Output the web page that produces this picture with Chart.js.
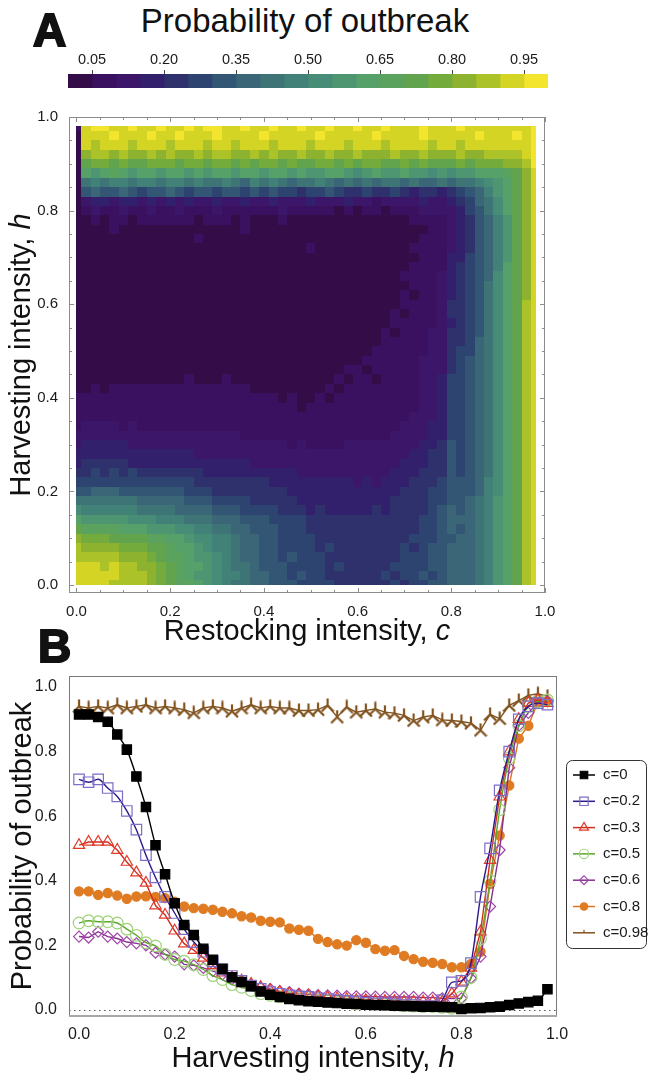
<!DOCTYPE html>
<html>
<head>
<meta charset="utf-8">
<title>Probability of outbreak</title>
<script src="https://cdn.jsdelivr.net/npm/chart.js@4.4.1/dist/chart.umd.min.js"></script>
<style>
  html, body { margin: 0; padding: 0; background: #fff; }
  body { position: relative; width: 648px; height: 1080px; overflow: hidden;
         font-family: "Liberation Sans", Arial, sans-serif; color: #111; }
  canvas { position: absolute; left: 0; }
  .letter { position: absolute; font-weight: bold; font-size: 46px; line-height: 1;
            -webkit-text-stroke: 2px #111; z-index: 2; }
  #title { position: absolute; left: 60px; width: 490px; top: 4px; text-align: center;
           font-size: 33px; line-height: 1; white-space: nowrap; }
</style>
</head>
<body>
<div class="letter" style="left:33px; top:7px;">A</div>
<div id="title">Probability of outbreak</div>
<div class="letter" style="left:38px; top:623px;">B</div>
<canvas id="colorbar" width="648" height="60" style="top:40px"></canvas>
<canvas id="heatmap" width="648" height="560" style="top:100px"></canvas>
<canvas id="curves" width="648" height="420" style="top:660px"></canvas>
<script>
const FONT = '"Liberation Sans", Arial, sans-serif';
Chart.defaults.font.family = FONT;
Chart.defaults.color = '#1a1a1a';

// intensity grid used by both panels (step 0.02)
const restockGrid = [0, 0.02, 0.04, 0.06, 0.08, 0.1, 0.12, 0.14, 0.16, 0.18,
  0.2, 0.22, 0.24, 0.26, 0.28, 0.3, 0.32, 0.34, 0.36, 0.38,
  0.4, 0.42, 0.44, 0.46, 0.48, 0.5, 0.52, 0.54, 0.56, 0.58,
  0.6, 0.62, 0.64, 0.66, 0.68, 0.7, 0.72, 0.74, 0.76, 0.78,
  0.8, 0.82, 0.84, 0.86, 0.88, 0.9, 0.92, 0.94, 0.96, 0.98];
const harvestGrid = [0, 0.02, 0.04, 0.06, 0.08, 0.1, 0.12, 0.14, 0.16, 0.18,
  0.2, 0.22, 0.24, 0.26, 0.28, 0.3, 0.32, 0.34, 0.36, 0.38,
  0.4, 0.42, 0.44, 0.46, 0.48, 0.5, 0.52, 0.54, 0.56, 0.58,
  0.6, 0.62, 0.64, 0.66, 0.68, 0.7, 0.72, 0.74, 0.76, 0.78,
  0.8, 0.82, 0.84, 0.86, 0.88, 0.9, 0.92, 0.94, 0.96, 0.98];

// colour bar bins
const binEdges = [0, 0.05, 0.1, 0.15, 0.2, 0.25, 0.3, 0.35, 0.4, 0.45, 0.5,
  0.55, 0.6, 0.65, 0.7, 0.75, 0.8, 0.85, 0.9, 0.95, 1];
const binColors = ['#330c48', '#391160', '#3b1669', '#33206c', '#2e316b',
  '#2e4470', '#335675', '#3a6677', '#3f7476', '#418177',
  '#468c76', '#4e9671', '#56a06a', '#5aa25d', '#62a44e',
  '#73ab3d', '#8db22f', '#abc228', '#d3d424', '#f3e52d'];
const colorbarTicks = [0.05, 0.2, 0.35, 0.5, 0.65, 0.8, 0.95];

// panel A: one string per h row (top row h=0.98 first), one letter per c column,
// letter a..t = outbreak probability bin (0-0.05 ... 0.95-1)
const binLetters = 'abcdefghijklmnopqrst';
const heatRows = [
  'bsttsstsst sststtssts stsstsstss tsstssstss stssssssst',
  'assstsssts stssstssss tssssstsss sstsssstss ssstssstst',
  'asrsssrsss rsssrssrss srsssrsssr sssrssssrs srssssssst',
  'aqrrqrqqrq rqqrqrrqqr qrqqrqqrqq rqqqrqqrqq qrqqrrrrst',
  'aoppopoopp poppoppopo ppopooppop oppoopopoo opopppqqrt',
  'amlmnmlmml mmlmlmmlmm lmmlmllmml klmllmllkl kllmmmnoqs',
  'aijijjijji jjijiijihj ijihiijihi hihiihihhi hiijklmoqs',
  'aghgghgfgg hgfggfggfg fgffeffgfe efeefedeed efghjlmoqs',
  'acddcddcdc dcdccdccdc cdcccdcccd ccbccccdcc defhikmoqs',
  'abcbbcbbcb bcbbbcbbbb bbcbbbbbab abbabbbccc cdfgikmoqs',
  'aababbabbb bbbabbbaba aabaaaaaaa aaaaaabbbb cdeghjloqs',
  'aaaabaaaaa aaaaaaaaba aaaaaaaaaa aaaaaaaabb cdeghjloqs',
  'aaaaaaaaaa aaabaaaaaa aaaaaaaaaa aaaaaaabbb cdeghjloqs',
  'aaaaaaaaaa aaaaaaaaaa aaaaabaaaa aaaaaabbbb cdeghjloqs',
  'aaaaaaaaaa aaaaaaaaaa aaaaaaaaaa aaaaaaabbb ddfghjloqs',
  'aaaaaaaaaa aaaaaaaaaa aaaaaaaaaa aaaaaabbbb defghjmoqs',
  'aaaaaaaaaa aaaaaaaaaa aaaaaaaaaa aaaaabbbbc defghkmoqs',
  'aaaaaaaaaa aaaaaaaaaa aaaaaaaaaa aaaaaabbbc defgikmoqs',
  'aaaaaaaaaa aaaaaaaaaa aaaaaaaaaa aaaaababbc defgikmoqs',
  'aaaaaaaaaa aaaaaaaaaa aaaaaaaaaa aaaaabbbbc eefgikmors',
  'aaaaaaaaaa aaaaaaaaaa aaaaaaaaaa aaaababbbc eefgikmors',
  'aaaaaaaaaa aaaaaaaaaa aaaaaaaaaa aaaabbbbbc defgikmors',
  'aaaaaaaaaa aaaaaaaaaa aaaaaaaaaa aaababbbcc eefgikmors',
  'aaaaaaaaaa aaaaaaaaaa aaaaaaaaaa aaabbbbbcc eefhikmors',
  'aaaaaaaaaa aaaaaaaaaa aaaaaaaaaa aabbbbbbcc effhikmors',
  'aaaaaaaaaa aaaaaaaaaa aaaaaaaaaa abbbbbbccc efghikmors',
  'aaaaaaaaaa aaaaaaaaaa aaaaaaaaab babbbbbccc efghikmors',
  'aaaaaaaaaa aabaaabaaa aaaaaaaaba bbabbbbccd ffghikmors',
  'aababbbbbb bbbbbbbbba aaaaaaabab bbbbbbbccd ffghikmors',
  'bbbbbbbbbb bbbbbbbbbb bbabaababb bbbbbbbccd ffghikmors',
  'bbbbbbbbbb bbbbbbbbbb bbbbabbbbb bbbbbbbccd ffghikmors',
  'bbbbbbbbbb bbbbbbbbbb bbbbbbbbbb bbbbbbcccd ffghikmors',
  'bccccbcbbb bbbbbbbbbb bbbbbbbbbb bbbbbcccdd ffghikmors',
  'cccccccccc ccccccccbb bbbbbbbbbb bbbbccccdd ffghikmors',
  'cdddddcccc cccccccccc cccbcbbbbc cccccccdde gfghikmors',
  'dddddddddd dddccccccc cccccccccc ccccccddee gfghikmors',
  'deeeeedddd dddddddddc cccccccccc cccccdddee gfghikmors',
  'eefefefeee eeeedddddd ddddcccccc ccccdddeee gfghikmors',
  'ffffffffff fffeeeeeee eddddddddd cdcdddeeef ggghjkmors',
  'gghhhggggg ggfffeeeee eeeddddddd dddddeeeff ggghjkmors',
  'iiiiiiihhh hhgggffffe eeeedddddd ddddeeeeff gghijlmors',
  'kjjjjjjiii ihhhhgggff ffeeededdd ddedeeeefg hghijlmors',
  'mlllllkkkj jjiiihhhgg gffffeeeee eeeeeeeffg hhhijlmors',
  'onnnnmmmll lkkjjiihhg ggfffeeeee eeeeeeeffg hghijlmors',
  'qpppoooonn mmlkkjjihh ggffffeeee eeeeeefffg ghhijlmors',
  'rqqqqpppoo nmmlkjjihh ggffffefee eeeeefefgg hhhijlmors',
  'rrrrrqqqpo nnmllkjihh ggfgfffeee eeeeefffgg hhhijlmors',
  'sssrsrrqqp onmmlkjiih gggffffefe eeeeffffgg hhhijlmors',
  'sssssrrrqp onmllkjjih hggfgffeee eeefeffgfg hhhijlmors',
  'ssssrrrrqp onnmlkjiih hgggffffee eeeefeffgg hhhijlmors'
];
const axisATicks = [0, 0.05, 0.1, 0.15, 0.2, 0.25, 0.3, 0.35, 0.4, 0.45, 0.5,
  0.55, 0.6, 0.65, 0.7, 0.75, 0.8, 0.85, 0.9, 0.95, 1];

// panel B: probability of outbreak against h (same grid), one list per c
const axisBTicks = [0, 0.2, 0.4, 0.6, 0.8, 1];
const curveLabels = ['c=0', 'c=0.2', 'c=0.3', 'c=0.5', 'c=0.6', 'c=0.8', 'c=0.98'];
const outbreakC0 = [0.915, 0.915, 0.907, 0.892, 0.853, 0.806, 0.723, 0.628, 0.510, 0.420,
  0.330, 0.263, 0.232, 0.189, 0.155, 0.127, 0.101, 0.086, 0.073, 0.057,
  0.047, 0.040, 0.034, 0.030, 0.027, 0.025, 0.023, 0.021, 0.019, 0.018,
  0.016, 0.015, 0.014, 0.013, 0.012, 0.011, 0.010, 0.010, 0.009, 0.008,
  0.003, 0.005, 0.006, 0.008, 0.010, 0.015, 0.020, 0.024, 0.028, 0.064];
const outbreakC02 = [0.714, 0.705, 0.714, 0.687, 0.661, 0.616, 0.558, 0.479, 0.410, 0.350,
  0.300, 0.250, 0.210, 0.180, 0.150, 0.125, 0.105, 0.090, 0.075, 0.065,
  0.055, 0.050, 0.045, 0.042, 0.040, 0.036, 0.033, 0.030, 0.028, 0.025,
  0.022, 0.020, 0.020, 0.018, 0.015, 0.015, 0.012, 0.012, 0.030, 0.085,
  0.090, 0.145, 0.350, 0.500, 0.680, 0.800, 0.900, 0.940, 0.950, 0.945];
const outbreakC03 = [0.510, 0.520, 0.520, 0.520, 0.495, 0.458, 0.425, 0.393, 0.323, 0.294,
  0.245, 0.205, 0.185, 0.161, 0.138, 0.115, 0.100, 0.090, 0.080, 0.070,
  0.060, 0.055, 0.050, 0.045, 0.042, 0.040, 0.038, 0.035, 0.033, 0.030,
  0.030, 0.028, 0.027, 0.027, 0.025, 0.025, 0.025, 0.025, 0.025, 0.050,
  0.087, 0.130, 0.242, 0.464, 0.660, 0.800, 0.900, 0.950, 0.960, 0.950];
const outbreakC05 = [0.269, 0.276, 0.273, 0.273, 0.269, 0.250, 0.231, 0.208, 0.198, 0.172,
  0.156, 0.151, 0.140, 0.125, 0.106, 0.094, 0.078, 0.070, 0.060, 0.050,
  0.045, 0.040, 0.038, 0.035, 0.033, 0.030, 0.028, 0.025, 0.022, 0.020,
  0.020, 0.018, 0.016, 0.015, 0.013, 0.012, 0.010, 0.010, 0.008, 0.005,
  0.040, 0.100, 0.220, 0.400, 0.620, 0.780, 0.880, 0.940, 0.955, 0.960];
const outbreakC06 = [0.227, 0.224, 0.242, 0.227, 0.221, 0.210, 0.206, 0.200, 0.177, 0.172,
  0.165, 0.141, 0.138, 0.130, 0.120, 0.110, 0.095, 0.085, 0.078, 0.070,
  0.065, 0.058, 0.055, 0.050, 0.048, 0.046, 0.045, 0.044, 0.043, 0.042,
  0.042, 0.041, 0.040, 0.040, 0.040, 0.040, 0.038, 0.038, 0.036, 0.035,
  0.036, 0.098, 0.165, 0.320, 0.495, 0.750, 0.880, 0.920, 0.950, 0.955];
const outbreakC08 = [0.367, 0.367, 0.356, 0.362, 0.354, 0.344, 0.351, 0.352, 0.350, 0.346,
  0.335, 0.320, 0.315, 0.313, 0.310, 0.304, 0.299, 0.290, 0.286, 0.276,
  0.273, 0.271, 0.252, 0.248, 0.245, 0.220, 0.210, 0.203, 0.199, 0.216,
  0.208, 0.188, 0.183, 0.185, 0.167, 0.157, 0.149, 0.146, 0.142, 0.132,
  0.132, 0.142, 0.180, 0.390, 0.540, 0.695, 0.840, 0.880, 0.953, 0.955];
const outbreakC098 = [0.940, 0.935, 0.940, 0.935, 0.945, 0.935, 0.940, 0.945, 0.935, 0.940,
  0.935, 0.930, 0.920, 0.935, 0.940, 0.935, 0.925, 0.935, 0.945, 0.935,
  0.940, 0.935, 0.935, 0.927, 0.927, 0.930, 0.943, 0.907, 0.938, 0.922,
  0.927, 0.932, 0.922, 0.919, 0.912, 0.896, 0.907, 0.912, 0.898, 0.896,
  0.893, 0.888, 0.866, 0.915, 0.902, 0.943, 0.958, 0.974, 0.979, 0.971];

const isMajor = v => Math.abs(v * 5 - Math.round(v * 5)) < 1e-6;

/**
 * Draws "label, <italic var>" centred at (cx, cy)
 */
function drawAxisText(ctx, label, variable, size, cx, cy) {
    ctx.font = size + 'px ' + FONT;
    const w1 = ctx.measureText(label).width;
    ctx.font = 'italic ' + size + 'px ' + FONT;
    const w2 = ctx.measureText(variable).width;
    const x0 = cx - (w1 + w2) / 2;
    ctx.textAlign = 'left';
    ctx.textBaseline = 'middle';
    ctx.font = size + 'px ' + FONT;
    ctx.fillText(label, x0, cy);
    ctx.font = 'italic ' + size + 'px ' + FONT;
    ctx.fillText(variable, x0 + w1, cy);
}

const axisTitles = {
    id: 'axisTitles',
    afterDraw(chart, args, opts) {
        const { ctx, chartArea } = chart;
        ctx.save();
        ctx.fillStyle = '#111';
        if (opts.x) {
            drawAxisText(ctx, opts.x.label, opts.x.variable, opts.size,
                (chartArea.left + chartArea.right) / 2, opts.x.y);
        }
        if (opts.y) {
            ctx.translate(opts.y.x, (chartArea.top + chartArea.bottom) / 2);
            ctx.rotate(-Math.PI / 2);
            drawAxisText(ctx, opts.y.label, opts.y.variable, opts.size, 0, 0);
        }
        ctx.restore();
    }
};

// cells of the density plot, each point gets its own Voronoi cell (half cells on the edges)
const heatCells = [];
heatRows.forEach((row, r) => {
    const i = heatRows.length - 1 - r;
    const letters = row.replace(/ /g, '');
    restockGrid.forEach((c, j) => {
        const k = binLetters.indexOf(letters[j] || letters[letters.length - 1]);
        heatCells.push({ x: c, y: harvestGrid[i], bin: k, i: i, j: j });
    });
});

const heatmapCells = {
    id: 'heatmapCells',
    beforeDatasetsDraw(chart) {
        const { ctx, scales: { x, y } } = chart;
        const n = restockGrid.length, m = harvestGrid.length;
        ctx.save();
        chart.data.datasets[0].data.forEach(p => {
            const cLo = p.j === 0 ? p.x : (restockGrid[p.j - 1] + p.x) / 2;
            const cHi = p.j === n - 1 ? p.x : (restockGrid[p.j + 1] + p.x) / 2;
            const hLo = p.i === 0 ? p.y : (harvestGrid[p.i - 1] + p.y) / 2;
            const hHi = p.i === m - 1 ? p.y : (harvestGrid[p.i + 1] + p.y) / 2;
            const x0 = Math.round(x.getPixelForValue(cLo)), x1 = Math.round(x.getPixelForValue(cHi));
            const y0 = Math.round(y.getPixelForValue(hHi)), y1 = Math.round(y.getPixelForValue(hLo));
            ctx.fillStyle = binColors[p.bin];
            ctx.fillRect(x0, y0, x1 - x0, y1 - y0);
        });
        ctx.restore();
    }
};

const frameA = {
    id: 'frameA',
    afterDraw(chart) {
        const { ctx, chartArea: a, scales: { x, y } } = chart;
        ctx.save();
        ctx.strokeStyle = '#8c8c8c';
        ctx.lineWidth = 1;
        ctx.strokeRect(a.left + 0.5, a.top + 0.5, a.right - a.left - 1, a.bottom - a.top - 1);
        ctx.beginPath();
        x.ticks.forEach(t => {
            const px = Math.round(x.getPixelForValue(t.value)) + 0.5;
            const len = t.label ? 5 : 3;
            ctx.moveTo(px, a.bottom); ctx.lineTo(px, a.bottom - len);
            ctx.moveTo(px, a.top); ctx.lineTo(px, a.top + len);
        });
        y.ticks.forEach(t => {
            const py = Math.round(y.getPixelForValue(t.value)) + 0.5;
            const len = t.label ? 5 : 3;
            ctx.moveTo(a.left, py); ctx.lineTo(a.left + len, py);
            ctx.moveTo(a.right, py); ctx.lineTo(a.right - len, py);
        });
        ctx.stroke();
        ctx.restore();
    }
};

// colour bar
new Chart(document.getElementById('colorbar'), {
    type: 'bar',
    data: {
        labels: ['p'],
        datasets: binColors.map((col, k) => ({
            data: [[binEdges[k], binEdges[k + 1]]],
            backgroundColor: col,
            borderWidth: 0,
            grouped: false,
            barPercentage: 1,
            categoryPercentage: 1
        }))
    },
    options: {
        indexAxis: 'y',
        responsive: false,
        animation: false,
        layout: { padding: { left: 68, right: 100, top: 0, bottom: 12 } },
        plugins: { legend: { display: false }, tooltip: { enabled: false } },
        scales: {
            x: {
                type: 'linear', position: 'top', min: 0, max: 1,
                afterBuildTicks: s => { s.ticks = colorbarTicks.map(v => ({ value: v })); },
                afterFit: s => { s.height = 34; },
                grid: { drawOnChartArea: false, drawTicks: true, tickLength: 4, tickColor: '#444', tickWidth: 1 },
                border: { display: false },
                ticks: { padding: 1, font: { size: 14.5 }, color: '#1a1a1a', maxRotation: 0, autoSkip: false,
                         callback: v => v.toFixed(2) }
            },
            y: { display: false }
        }
    }
});

// panel A
new Chart(document.getElementById('heatmap'), {
    type: 'scatter',
    data: { datasets: [{ label: 'outbreak', data: heatCells, pointRadius: 0 }] },
    options: {
        responsive: false,
        animation: false,
        layout: { padding: { left: 0, right: 103, top: 17, bottom: 0 } },
        plugins: {
            legend: { display: false }, tooltip: { enabled: false },
            axisTitles: {
                size: 29,
                x: { label: 'Restocking intensity, ', variable: 'c', y: 532 },
                y: { label: 'Harvesting intensity, ', variable: 'h', x: 22 }
            }
        },
        scales: {
            x: {
                type: 'linear', min: -0.016, max: 1,
                afterBuildTicks: s => { s.ticks = axisATicks.map(v => ({ value: v })); },
                afterFit: s => { s.height = 67; },
                grid: { display: false }, border: { display: false },
                ticks: { padding: 2, font: { size: 15 }, color: '#1a1a1a', maxRotation: 0, autoSkip: false,
                         callback: v => isMajor(v) ? v.toFixed(1) : '' }
            },
            y: {
                type: 'linear', min: -0.017, max: 1,
                afterBuildTicks: s => { s.ticks = axisATicks.map(v => ({ value: v })); },
                afterFit: s => { s.width = 69; },
                grid: { display: false }, border: { display: false },
                ticks: { padding: 3, font: { size: 15 }, color: '#1a1a1a', autoSkip: false,
                         callback: v => isMajor(v) ? v.toFixed(1) : '' }
            }
        }
    },
    plugins: [heatmapCells, frameA, axisTitles]
});

// panel B markers
function makeTack(color) {
    const c = document.createElement('canvas');
    c.width = 14; c.height = 15;
    const g = c.getContext('2d');
    g.strokeStyle = color;
    g.lineWidth = 2.2;
    g.beginPath();
    g.moveTo(7, 0.5); g.lineTo(7, 7.5);
    g.moveTo(1, 13.5); g.lineTo(7, 7.5); g.lineTo(13, 13.5);
    g.stroke();
    return c;
}
const toPoints = values => values.map((v, k) => ({ x: harvestGrid[k], y: v }));

const curveSets = [
    { values: outbreakC0, line: '#000000', edge: '#000000', fill: '#000000', style: 'rect', r: 6.6, smooth: true },
    { values: outbreakC02, line: '#2c1a8a', edge: '#7c6dc6', fill: 'rgba(0,0,0,0)', style: 'rect', r: 7.4, smooth: true },
    { values: outbreakC03, line: '#cf2e1c', edge: '#e03a2a', fill: 'rgba(0,0,0,0)', style: 'triangle', r: 6.5, smooth: false },
    { values: outbreakC05, line: '#5da62a', edge: '#9ed27a', fill: 'rgba(0,0,0,0)', style: 'circle', r: 5.8, smooth: true },
    { values: outbreakC06, line: '#88308f', edge: '#a046aa', fill: 'rgba(0,0,0,0)', style: 'rectRot', r: 5.5, smooth: false },
    { values: outbreakC08, line: '#d9741f', edge: '#df7b22', fill: '#df7b22', style: 'circle', r: 4.6, smooth: false },
    { values: outbreakC098, line: '#80531f', edge: '#80531f', fill: '#80531f', style: makeTack('#80531f'), r: 6, smooth: false }
];

const zeroLine = {
    id: 'zeroLine',
    beforeDatasetsDraw(chart) {
        const { ctx, chartArea: a, scales: { y } } = chart;
        const py = Math.round(y.getPixelForValue(0)) + 0.5;
        ctx.save();
        ctx.strokeStyle = '#555';
        ctx.lineWidth = 1;
        ctx.setLineDash([1.5, 3.5]);
        ctx.beginPath();
        ctx.moveTo(a.left, py); ctx.lineTo(a.right, py);
        ctx.stroke();
        ctx.restore();
    }
};

const frameB = {
    id: 'frameB',
    afterDatasetsDraw(chart) {
        const { ctx, chartArea: a } = chart;
        ctx.save();
        ctx.strokeStyle = '#7a7a7a';
        ctx.lineWidth = 1;
        ctx.strokeRect(a.left + 0.5, a.top + 0.5, a.right - a.left - 1, a.bottom - a.top - 1);
        ctx.strokeStyle = '#a8a8a8';
        ctx.lineWidth = 2;
        ctx.beginPath();
        ctx.moveTo(a.left, a.bottom); ctx.lineTo(a.right, a.bottom);
        ctx.stroke();
        ctx.restore();
    }
};

const legendBox = {
    id: 'legendBox',
    afterDraw(chart, args, opts) {
        const { ctx, chartArea } = chart;
        const left = chartArea.right + opts.gap, top = opts.top;
        ctx.save();
        ctx.strokeStyle = '#333';
        ctx.lineWidth = 1;
        ctx.beginPath();
        ctx.roundRect(left + 0.5, top + 0.5, opts.width, opts.height, 6);
        ctx.stroke();
        ctx.font = opts.size + 'px ' + FONT;
        ctx.textBaseline = 'middle';
        ctx.textAlign = 'left';
        chart.data.datasets.forEach((ds, k) => {
            const cy = top + opts.firstRow + k * opts.rowGap;
            ctx.strokeStyle = ds.borderColor;
            ctx.lineWidth = 1.5;
            ctx.beginPath();
            ctx.moveTo(left + 7, cy); ctx.lineTo(left + 29, cy);
            ctx.stroke();
            ctx.fillStyle = ds.pointBackgroundColor;
            ctx.strokeStyle = ds.pointBorderColor;
            ctx.lineWidth = 1.2;
            if (typeof ds.pointStyle === 'string') {
                Chart.helpers.drawPoint(ctx, { pointStyle: ds.pointStyle, rotation: 0,
                    radius: ds.pointRadius * 0.8, borderWidth: 1.2 }, left + 18, cy);
            } else {
                ctx.strokeStyle = ds.borderColor;
                ctx.beginPath();
                ctx.moveTo(left + 18, cy - 3); ctx.lineTo(left + 18, cy);
                ctx.stroke();
            }
            ctx.fillStyle = '#1a1a1a';
            ctx.fillText(ds.label, left + 37, cy);
        });
        ctx.restore();
    }
};

new Chart(document.getElementById('curves'), {
    type: 'line',
    data: {
        datasets: curveSets.map((s, k) => ({
            label: curveLabels[k],
            data: toPoints(s.values),
            borderColor: s.line,
            borderWidth: 1.4,
            pointStyle: s.style,
            pointRadius: s.r,
            pointBorderColor: s.edge,
            pointBackgroundColor: s.fill,
            pointBorderWidth: 1.2,
            tension: s.smooth ? 0.4 : 0,
            cubicInterpolationMode: s.smooth ? 'monotone' : 'default'
        }))
    },
    options: {
        responsive: false,
        animation: false,
        layout: { padding: { left: 0, right: 91, top: 16, bottom: 0 } },
        plugins: {
            legend: { display: false }, tooltip: { enabled: false },
            axisTitles: {
                size: 29,
                x: { label: 'Harvesting intensity, ', variable: 'h', y: 399 },
                y: { label: 'Probability of outbreak', variable: '', x: 23 }
            },
            legendBox: { gap: 9, top: 100, width: 80, height: 188, firstRow: 15, rowGap: 26.3, size: 15 }
        },
        scales: {
            x: {
                type: 'linear', min: -0.021, max: 1,
                afterBuildTicks: s => { s.ticks = axisBTicks.map(v => ({ value: v })); },
                afterFit: s => { s.height = 64; },
                grid: { display: false }, border: { display: false },
                ticks: { padding: 1, font: { size: 16 }, color: '#1a1a1a', maxRotation: 0, autoSkip: false,
                         callback: v => v.toFixed(1) }
            },
            y: {
                type: 'linear', min: -0.019, max: 1.034,
                afterBuildTicks: s => { s.ticks = axisBTicks.map(v => ({ value: v })); },
                afterFit: s => { s.width = 69; },
                grid: { display: false }, border: { display: false },
                ticks: { padding: 4, font: { size: 16 }, color: '#1a1a1a', autoSkip: false,
                         callback: v => v.toFixed(1) }
            }
        }
    },
    plugins: [zeroLine, frameB, axisTitles, legendBox]
});
</script>
</body>
</html>
